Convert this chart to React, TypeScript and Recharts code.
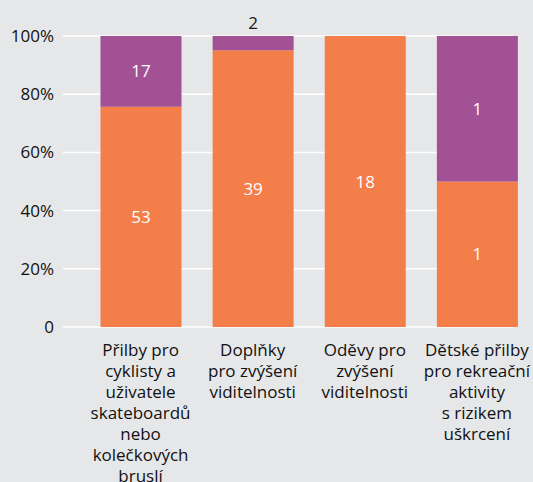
import React from "react";
import { BarChart, Bar, XAxis, YAxis, CartesianGrid, LabelList } from "recharts";

const categories: string[][] = [
  ["Přilby pro", "cyklisty a", "uživatele", "skateboardů", "nebo", "kolečkových", "bruslí"],
  ["Doplňky", "pro zvýšení", "viditelnosti"],
  ["Oděvy pro", "zvýšení", "viditelnosti"],
  ["Dětské přilby", "pro rekreační", "aktivity", "s rizikem", "uškrcení"],
];
const orangeCounts = [53, 39, 18, 1];
const purpleCounts = [17, 2, 0, 1];
const yTicks = [0, 0.2, 0.4, 0.6, 0.8, 1];

const ORANGE = "#f47e4a";
const PURPLE = "#a25194";
const BG = "#e6e7e9";
const FONT = "'Open Sans', 'Noto Sans', sans-serif";

const data = categories.map((lines, i) => {
  const total = orangeCounts[i] + purpleCounts[i];
  return {
    name: lines.join(" "),
    idx: i,
    orange: orangeCounts[i] / total,
    purple: purpleCounts[i] / total,
    orangeCount: orangeCounts[i],
    purpleCount: purpleCounts[i],
  };
});

const renderLabel = (props: any) => {
  const { x, y, width, height, value } = props;
  if (!value) return null;
  const cx = Number(x) + Number(width) / 2;
  if (Number(height) < 22) {
    return (
      <text x={cx} y={Number(y) - 7} textAnchor="middle" fill="#1a1a1a" fontSize={17} fontFamily={FONT}>
        {value}
      </text>
    );
  }
  return (
    <text x={cx} y={Number(y) + Number(height) / 2 + 6} textAnchor="middle" fill="#ffffff" fontSize={17} fontFamily={FONT}>
      {value}
    </text>
  );
};

const XTick = (props: any) => {
  const { x, y, payload } = props;
  const lines = categories[payload.index] ?? [String(payload.value)];
  return (
    <g>
      {lines.map((l, k) => (
        <text
          key={k}
          x={x}
          y={y + 29 + k * 21}
          textAnchor="middle"
          fill="#111111"
          fontSize={17}
          fontWeight={500}
          fontFamily={FONT}
        >
          {l}
        </text>
      ))}
    </g>
  );
};

export default function App() {
  return (
    <div style={{ position: "absolute", left: 0, top: 0, width: 533, height: 482, background: BG, overflow: "hidden" }}>
      <BarChart
        width={533}
        height={482}
        data={data}
        margin={{ top: 36, right: 0, bottom: 0, left: 0 }}
        barSize={81}
      >
        <CartesianGrid vertical={false} stroke="#ffffff" strokeWidth={1.5} x={63} width={450} />
        <XAxis
          dataKey="name"
          axisLine={false}
          tickLine={false}
          tickSize={0}
          tickMargin={0}
          height={155}
          interval={0}
          padding={{ left: 21.5, right: 0 }}
          tick={<XTick />}
        />
        <YAxis
          width={63}
          domain={[0, 1]}
          ticks={yTicks}
          axisLine={false}
          tickLine={false}
          tickSize={0}
          tickMargin={9}
          tick={{ fill: "#111111", fontSize: 17, fontFamily: FONT }}
          tickFormatter={(v: number) => (v === 0 ? "0" : `${Math.round(v * 100)}%`)}
        />
        <Bar dataKey="orange" stackId="a" fill={ORANGE} isAnimationActive={false}>
          <LabelList dataKey="orangeCount" content={renderLabel} />
        </Bar>
        <Bar dataKey="purple" stackId="a" fill={PURPLE} isAnimationActive={false}>
          <LabelList dataKey="purpleCount" content={renderLabel} />
        </Bar>
      </BarChart>
    </div>
  );
}
